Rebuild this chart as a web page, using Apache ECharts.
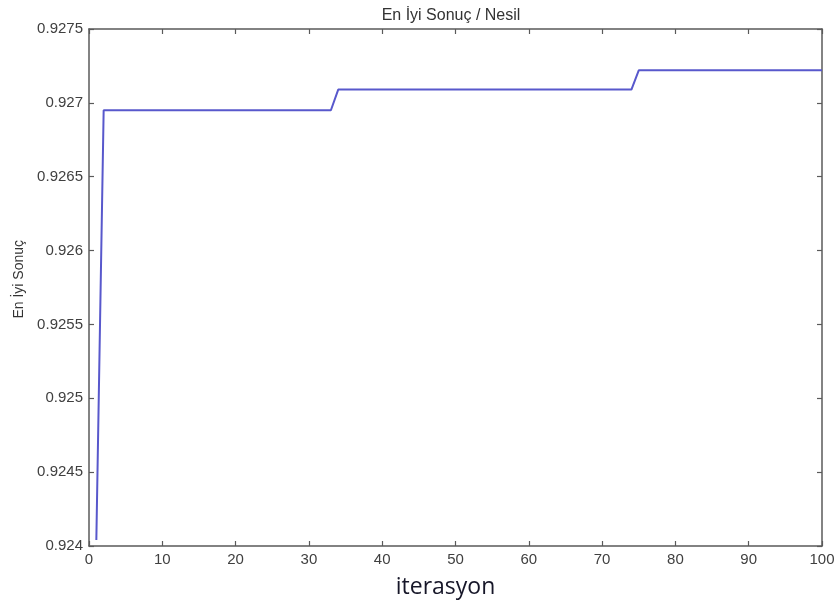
<!DOCTYPE html>
<html>
<head>
<meta charset="utf-8">
<script src="https://cdn.jsdelivr.net/npm/echarts@6/dist/echarts.min.js"></script>
<style>
html,body{margin:0;padding:0;background:#fff;}
#main{width:835px;height:604px;}
</style>
</head>
<body>
<div id="main"></div>
<script>
// breakpoints of the best-result curve (iteration, value)
var iterations = [1, 2, 33, 34, 74, 75, 100];
var bestValues = [0.92404, 0.92695, 0.92695, 0.92709, 0.92709, 0.92722, 0.92722];
var xTicks = [0, 10, 20, 30, 40, 50, 60, 70, 80, 90, 100];
var yTicks = [0.924, 0.9245, 0.925, 0.9255, 0.926, 0.9265, 0.927, 0.9275];

var chart = echarts.init(document.getElementById('main'));
var fontFam = "'Liberation Sans', Arial, sans-serif";

var points = [];
for (var i = 0; i < iterations.length; i++) {
    points.push([iterations[i], bestValues[i]]);
}

function boxAxis(extra) {
    var a = {
        type: 'value',
        axisLine: { show: true, onZero: false, lineStyle: { color: '#5a5a5a', width: 1.5 } },
        axisTick: { show: true, inside: true, length: 5, lineStyle: { color: '#5a5a5a', width: 1.2 } },
        splitLine: { show: false },
        axisLabel: { show: false }
    };
    for (var k in extra) a[k] = extra[k];
    return a;
}

var option = {
    backgroundColor: '#fff',
    animation: false,
    title: {
        text: 'En İyi Sonuç / Nesil',
        left: 446, top: 3, textAlign: 'center',
        textStyle: { fontFamily: fontFam, fontSize: 16, fontWeight: 'normal', color: '#333' }
    },
    graphic: [{
        type: 'text',
        left: 12, top: 240,
        rotation: Math.PI / 2,
        style: { text: 'En İyi Sonuç', font: '14px ' + fontFam, fill: '#333' },
        z: 10
    }],
    grid: { left: 89, right: 13, top: 29, bottom: 58, outerBoundsMode: 'none', containLabel: false },
    xAxis: [
        boxAxis({
            min: xTicks[0], max: xTicks[xTicks.length - 1], interval: 10, position: 'bottom',
            name: 'iterasyon', nameLocation: 'middle', nameGap: 30,
            nameTextStyle: { fontFamily: "'Open Sans', 'DejaVu Sans', sans-serif", fontSize: 23, color: '#161628', padding: [0, 20, 0, 0] },
            axisLabel: { show: true, margin: 6, color: '#404040', fontFamily: fontFam, fontSize: 15 }
        }),
        boxAxis({ min: xTicks[0], max: xTicks[xTicks.length - 1], interval: 10, position: 'top' })
    ],
    yAxis: [
        boxAxis({
            min: yTicks[0], max: yTicks[yTicks.length - 1], interval: 0.0005, position: 'left',
            axisLabel: {
                show: true, margin: 6, color: '#404040', fontFamily: fontFam, fontSize: 15,
                formatter: function (v) { return String(+v.toFixed(4)); }
            }
        }),
        boxAxis({ min: yTicks[0], max: yTicks[yTicks.length - 1], interval: 0.0005, position: 'right' })
    ],
    series: [{
        type: 'line',
        data: points,
        symbol: 'none',
        lineStyle: { color: '#5858cc', width: 2 }
    }]
};
chart.setOption(option);
</script>
</body>
</html>
